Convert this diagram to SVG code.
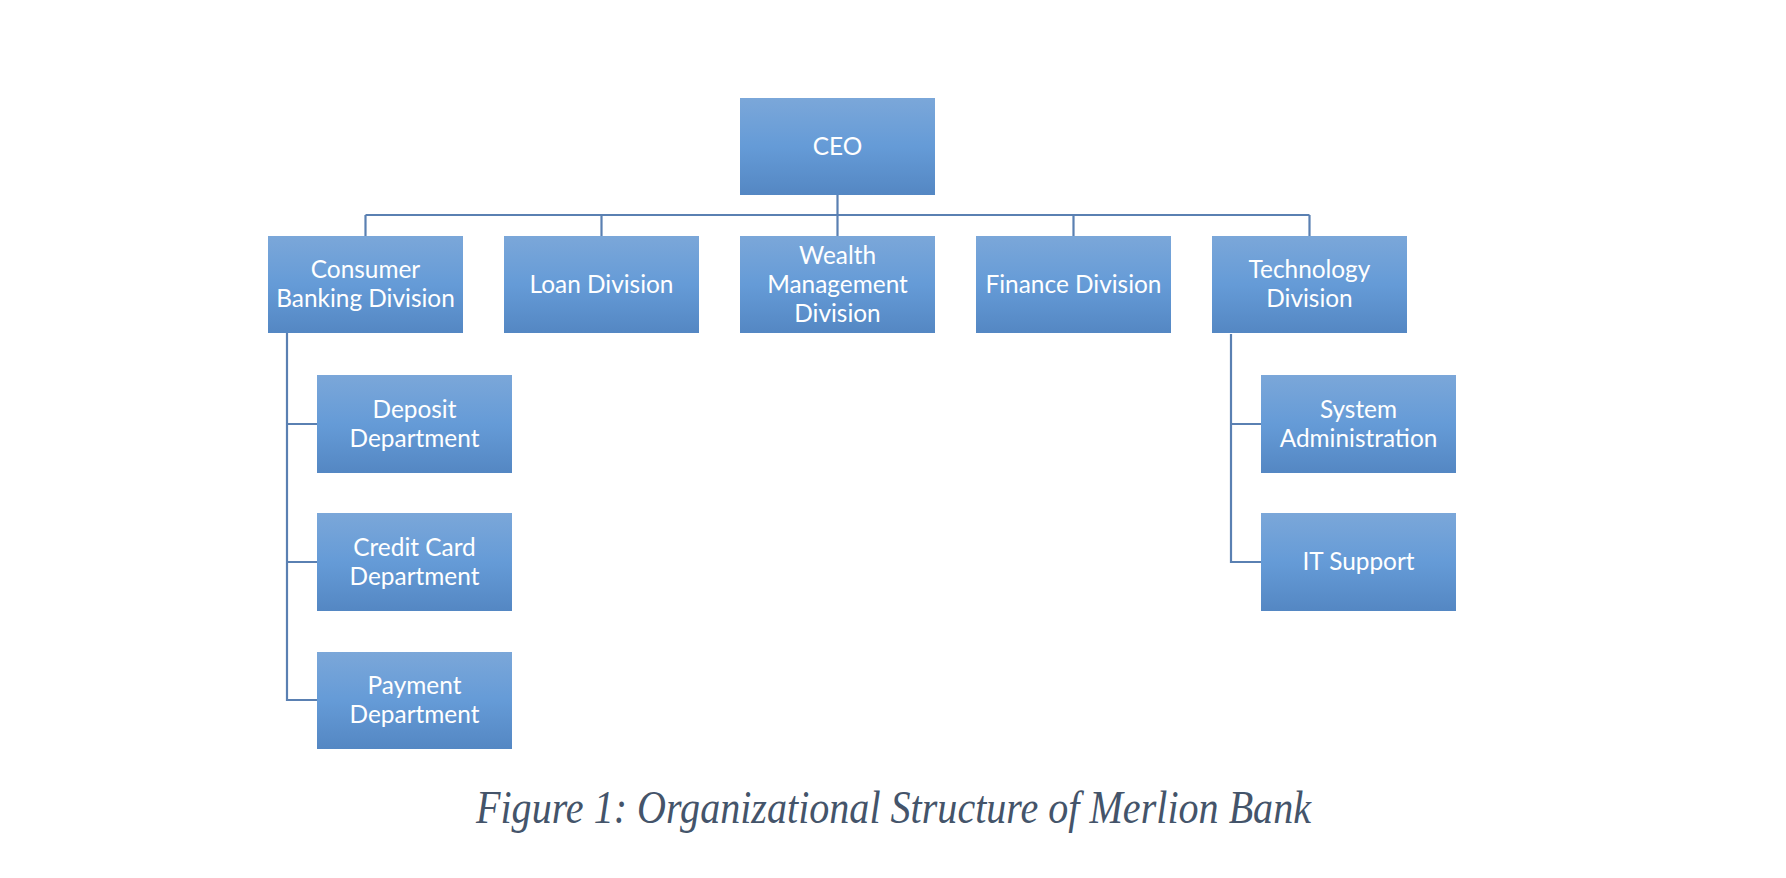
<svg xmlns="http://www.w3.org/2000/svg" width="1786" height="878" viewBox="0 0 1786 878">
<defs>
<linearGradient id="g" x1="0" y1="0" x2="0" y2="1">
<stop offset="0" stop-color="#7ba7d9"/>
<stop offset="0.5" stop-color="#659bd7"/>
<stop offset="1" stop-color="#5487c3"/>
</linearGradient>
<style>
.box{fill:url(#g);}
.t{font-family:Lato,"Open Sans",sans-serif;font-size:24.4px;fill:#ffffff;text-anchor:middle;}
.c{fill:none;stroke:#5a80b2;stroke-width:2.2;}
.cap{font-family:"Liberation Serif",serif;font-style:italic;font-size:46px;fill:#44546a;text-anchor:middle;}
</style>
</defs>
<rect width="1786" height="878" fill="#ffffff"/>
<g id="connectors">
<path class="c" d="M837.5 195V215M365.5 215H1309.5M365.5 215V236M601.5 215V236M837.5 215V236M1073.5 215V236M1309.5 215V236"/>
<path class="c" d="M287 333V700H317M287 424H317M287 562H317"/>
<path class="c" d="M1231 334V562H1261M1231 424H1261"/>
</g>
<g id="ceo"><rect class="box" x="740" y="98" width="195" height="97"/><text class="t" x="837.5" y="154.5">CEO</text></g>
<g id="consumer"><rect class="box" x="268" y="236" width="195" height="97"/><text class="t" x="365.5" y="278">Consumer</text><text class="t" x="365.5" y="307">Banking Division</text></g>
<g id="loan"><rect class="box" x="504" y="236" width="195" height="97"/><text class="t" x="601.5" y="292.5">Loan Division</text></g>
<g id="wealth"><rect class="box" x="740" y="236" width="195" height="97"/><text class="t" x="837.5" y="263.5">Wealth</text><text class="t" x="837.5" y="292.5">Management</text><text class="t" x="837.5" y="321.5">Division</text></g>
<g id="finance"><rect class="box" x="976" y="236" width="195" height="97"/><text class="t" x="1073.5" y="292.5">Finance Division</text></g>
<g id="technology"><rect class="box" x="1212" y="236" width="195" height="97"/><text class="t" x="1309.5" y="278">Technology</text><text class="t" x="1309.5" y="307">Division</text></g>
<g id="deposit"><rect class="box" x="317" y="375" width="195" height="98"/><text class="t" x="414.5" y="417.5">Deposit</text><text class="t" x="414.5" y="446.5">Department</text></g>
<g id="credit"><rect class="box" x="317" y="513" width="195" height="98"/><text class="t" x="414.5" y="555.5">Credit Card</text><text class="t" x="414.5" y="584.5">Department</text></g>
<g id="payment"><rect class="box" x="317" y="652" width="195" height="97"/><text class="t" x="414.5" y="694">Payment</text><text class="t" x="414.5" y="723">Department</text></g>
<g id="sysadmin"><rect class="box" x="1261" y="375" width="195" height="98"/><text class="t" x="1358.5" y="417.5">System</text><text class="t" x="1358.5" y="446.5">Administration</text></g>
<g id="itsupport"><rect class="box" x="1261" y="513" width="195" height="98"/><text class="t" x="1358.5" y="570">IT Support</text></g>
<text class="cap" x="893.5" y="823" textLength="835" lengthAdjust="spacingAndGlyphs">Figure 1: Organizational Structure of Merlion Bank</text>
</svg>
